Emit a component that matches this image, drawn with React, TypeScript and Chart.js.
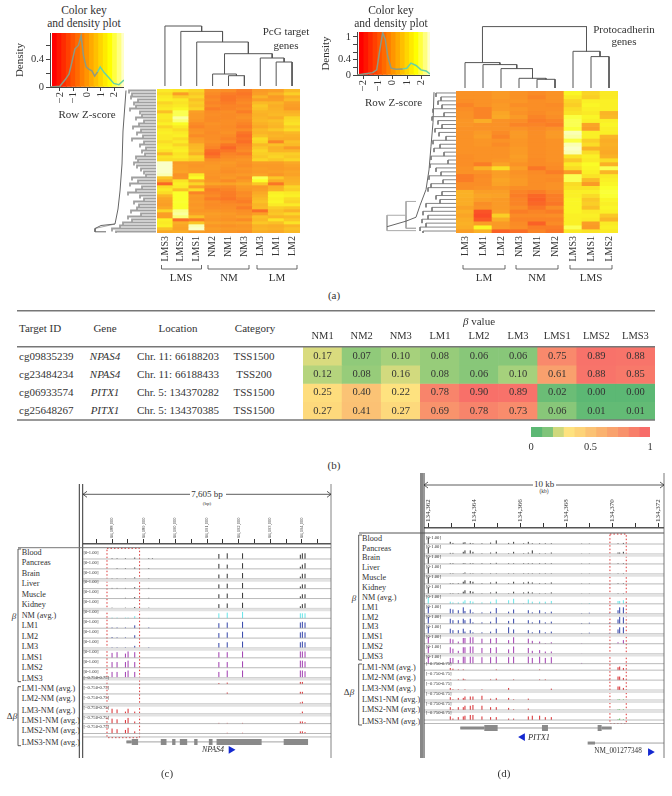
import { useEffect, useRef } from 'react';
import { Chart, registerables } from 'chart.js';

Chart.register(...registerables);
Chart.defaults.font.family = '"Liberation Serif"';
Chart.defaults.color = '#333';

/* ---------- panel (a), left heat map ---------- */
const pcgColumns = ['LMS3', 'LMS2', 'LMS1', 'NM2', 'NM1', 'NM3', 'LM3', 'LM1', 'LM2'];
const pcgLMS3 = [1.2,1.0,1.2,1.3,0.9,1.1,1.2,0.6,1.2,1.2,1.1,1.3,0.9,1.2,1.3,1.2,1.2,1.0,1.2,1.3,1.1,0.5,1.1,1.0,2.6,2.6,2.6,2.6,2.5,0.7,0.2,-1.2,1.0,1.2,1.0,0.4,0.0,-0.1,-0.2,0.1,0.9,-0.2,-0.2,1.3,1.2,1.3,0.6,0.1];
const pcgLMS2 = [1.1,-0.2,0.8,1.2,1.1,1.2,1.4,2.0,2.0,2.4,2.2,1.5,1.2,1.0,1.2,1.3,1.0,1.2,0.9,1.2,1.3,1.1,1.2,1.0,-0.3,-0.2,-0.2,-0.1,-0.5,-0.4,1.1,1.3,1.2,0.6,1.6,1.6,1.6,1.7,1.6,1.6,2.3,2.4,2.2,-1.1,0.2,0.0,-0.1,0.2];
const pcgLMS1 = [0.9,0.7,0.9,0.6,0.8,0.7,0.9,-0.2,-0.3,-0.3,-0.4,-0.7,-0.8,-0.5,-0.4,-0.7,-0.3,-0.2,0.4,0.5,0.6,0.3,0.9,0.8,-0.3,-0.4,-0.3,-0.3,1.2,1.5,0.2,0.9,-0.1,1.0,-0.8,-0.3,-0.4,-0.3,-0.4,-0.3,-0.4,-0.2,0.6,-0.9,0.7,2.5,2.6,-0.2];
const pcgNM2 = [-0.5,-0.7,-0.8,-0.7,-0.8,-0.7,-0.9,-0.7,-0.6,-0.7,-0.7,-0.5,-0.6,-0.6,-0.7,-0.6,-0.6,-0.5,-0.7,-0.8,-1.1,-1.2,-1.0,-0.6,-0.4,-0.3,-0.3,-0.4,-0.4,-0.5,-0.4,0.0,-0.6,-0.9,-0.8,-0.7,-0.9,-0.6,-0.7,-0.6,-0.4,-0.2,-0.3,-0.4,-0.1,-0.4,-0.2,-0.3];
const pcgNM1 = [-0.6,-0.9,-1.0,-1.0,-0.9,-0.8,-0.8,-0.6,-0.7,-0.7,-0.6,-0.6,-0.7,-0.6,-0.5,-0.7,-0.8,-0.6,-1.0,-1.2,-1.0,-0.8,-0.7,-0.5,-0.3,-0.4,-0.5,-0.6,-0.4,-0.3,-0.7,-0.1,-0.7,-0.8,-0.9,-0.9,-1.0,-0.8,-0.7,-0.6,-0.5,-0.3,-0.4,-0.5,-0.2,-0.5,-0.3,-0.4];
const pcgNM3 = [-0.9,-1.0,-0.9,-0.8,-0.7,-0.8,-0.7,-0.9,-0.6,-0.5,-0.7,-0.8,-0.9,-0.7,-1.0,-1.1,-1.0,-1.1,-0.9,-0.8,-0.7,-0.9,-0.6,-0.4,-0.5,-0.6,-0.4,-0.5,-0.3,-0.6,-0.3,0.1,-0.3,-0.4,-0.7,-0.6,-0.8,-0.9,-0.7,-0.9,-0.6,-0.5,-0.2,-0.7,-0.1,-0.4,-0.3,-0.5];
const pcgLM3 = [-0.3,-0.2,0.3,-0.2,0.5,0.7,0.6,0.4,0.3,0.4,0.5,0.3,0.1,0.5,0.4,0.6,1.0,0.9,0.5,0.7,0.9,0.8,0.7,0.9,-0.2,-0.3,-0.2,-0.3,-0.1,2.0,1.6,0.7,-0.3,-0.2,0.1,0.3,0.5,0.6,0.4,0.5,-1.1,-0.2,0.6,0.5,0.7,0.3,0.4,0.2];
const pcgLM1 = [-0.2,0.3,-0.3,-0.2,0.4,0.2,0.3,0.4,0.5,0.2,0.6,0.5,0.4,0.7,0.3,0.4,0.2,-0.8,0.6,0.3,0.4,0.8,0.9,0.7,-0.2,-0.3,-0.3,-0.2,-0.4,0.7,0.2,-1.0,0.3,0.4,1.3,1.4,1.3,1.4,1.2,0.8,0.6,0.7,0.4,1.1,0.6,0.2,0.3,0.1];
const pcgLM2 = [0.5,0.8,0.2,0.5,-0.1,-0.2,-0.3,0.3,0.5,0.9,1.0,1.1,0.8,1.0,0.5,0.3,0.2,0.6,0.5,-0.3,0.4,0.8,0.7,0.9,0.1,-0.1,-0.2,0.0,-0.1,0.2,0.3,0.4,0.9,0.8,1.2,1.3,1.0,0.9,1.2,0.7,0.3,0.9,0.5,0.7,1.1,0.4,0.6,0.5];
const pcgLeafDepth = [27,24,25,18,22,20,26,16,14,20,12,17,23,15,19,13,24,12,16,10,14,11,20,18,22,19,15,12,10,24,18,26,14,20,28,16,12,22,17,19,25,15,28,24,33,36,44,40];
const pcgSpine = [[30,0.5],[33,14],[34,25],[36,34],[38,40],[41,45],[55,45.5],[61,46.5],[61,47.6],[50,47.6]];
/* [left x, left height, right x, right height, top] */
const pcgMerges = [
  [4, 3, 5, 3, 13.3], [3, 3, 4.5, 13.3, 15], [7, 3, 8, 3, 27], [6, 3, 7.5, 27, 31],
  [3.75, 15, 6.75, 31, 35.3], [2, 3, 5.25, 35.3, 47], [1, 3, 3.625, 47, 57.6], [0, 3, 2.31, 57.6, 63],
];
const pcgDensity = [[-2.7,0],[-2,0.01],[-1.63,0.1],[-1.33,0.186],[-1.14,0.338],[-0.89,0.552],[-0.64,0.6],[-0.44,0.743],[-0.27,0.457],[-0.07,0.29],[0.12,0.257],[0.35,0.233],[0.55,0.157],[0.77,0.219],[0.96,0.29],[1.26,0.205],[1.58,0.138],[1.95,0.052],[2.32,0.033],[2.7,0.1]];

/* ---------- panel (a), right heat map ---------- */
const pcdhColumns = ['LM3', 'LM1', 'LM2', 'NM3', 'NM1', 'NM2', 'LMS3', 'LMS1', 'LMS2'];
const pcdhLM3 = [-0.5,-0.5,-0.6,-0.8,-0.6,-0.5,-0.5,-0.4,-0.4,-0.5,-0.5,-0.5,-0.5,-0.5,-0.5,-0.5,-0.6,-0.6,-0.6,-0.5,-0.5,-0.9,-0.9,-0.6,-0.6,0.3,0.3,0.2,0.2,-0.1,0.2,0.0,0.2,0.3,0.2,-0.2];
const pcdhLM1 = [-0.5,-0.5,-0.5,-0.5,-0.8,-0.8,-0.8,0.2,-0.5,-0.5,-0.3,-0.2,-0.4,-0.4,-0.5,-0.5,-0.5,-0.5,-0.9,0.3,-0.5,-0.7,-0.6,-0.6,-0.5,-0.2,0.0,-0.2,-0.6,-0.5,-1.5,-1.6,-1.4,-0.2,1.4,0.3];
const pcdhLM2 = [-0.3,-0.3,-0.4,-0.3,-0.3,0.0,0.1,-0.5,-0.5,-0.5,-0.7,-0.8,-0.5,-0.7,-0.5,-0.5,-0.5,-0.4,-0.1,1.0,-0.2,-0.2,0.0,-0.1,-0.4,-0.2,-0.1,-0.3,-0.3,-0.3,-0.2,0.8,0.2,-0.3,-0.3,-1.3];
const pcdhNM3 = [-0.5,-0.5,-0.4,-0.6,-0.4,-0.5,-0.3,-0.6,-0.8,-0.5,-0.3,-0.3,-0.4,-0.4,-0.3,-0.3,-0.2,-0.3,-0.5,-0.2,-0.5,-0.4,-0.3,-0.3,-0.6,-0.8,-0.9,-0.8,-0.8,-0.6,-0.9,-0.7,-0.8,-0.7,-0.6,-1.1];
const pcdhNM1 = [-0.7,-0.8,-0.6,-0.6,-0.6,-0.7,-0.8,-0.9,-0.8,-0.7,-0.6,-0.6,-0.6,-0.6,-0.6,-0.6,-0.6,-0.7,-0.7,-1.0,-0.7,-0.6,-0.6,-0.6,-0.6,-0.9,-1.2,-1.3,-1.2,-1.0,-0.8,-0.7,-0.8,-1.3,-0.9,-0.8];
const pcdhNM2 = [-0.5,-0.5,-0.5,-0.7,-0.6,-0.5,-0.6,-0.8,-0.9,-0.5,-0.3,-0.3,-0.5,-0.5,-0.5,-0.5,-0.5,-0.5,-0.6,-0.7,-0.9,-0.6,-0.7,-0.5,-0.5,-0.7,-0.9,-0.9,-1.0,-0.6,-0.9,-0.6,-0.8,-0.7,-0.9,-1.0];
const pcdhLMS3 = [1.4,1.2,0.9,0.8,1.0,1.1,1.9,2.0,2.0,1.8,2.5,2.4,1.9,2.5,2.6,2.5,1.1,0.7,1.2,1.0,-0.3,2.0,2.0,1.0,1.1,1.3,1.3,1.4,1.4,1.4,1.4,1.3,1.3,1.3,2.0,1.2];
const pcdhLMS1 = [0.9,0.8,1.3,1.4,1.3,1.2,1.4,1.3,0.0,-0.2,1.3,1.3,0.8,1.0,0.3,1.0,1.3,1.2,1.5,1.4,1.3,1.1,0.5,-0.3,1.1,1.3,1.0,0.7,0.8,0.6,1.2,1.3,1.2,-0.2,-0.3,1.1];
const pcdhLMS2 = [1.2,1.2,1.3,1.3,1.3,0.4,0.5,1.3,1.4,1.3,1.3,0.4,0.2,0.3,0.2,0.1,0.3,1.0,0.3,2.0,0.4,1.2,1.3,1.4,1.6,1.8,1.7,1.4,1.3,1.4,1.3,0.7,0.4,1.2,1.3,1.2];
const pcdhLeafDepth = [20,15,18,14,23,12,24,18,14,21,17,10,23,16,22,12,25,8,26,20,15,27,13,25,28,14,20,16,30,24,33,28,34,30,36,33];
const pcdhSpine = [[22,0.3],[23,8],[25,14],[27,20],[30,25],[36,29],[40,32],[50,33],[69,34.4]];
const pcdhRoot = [[40,28],[50,28],[50,34.8],[40,34.8],[50,34.8],[50,31.5],[69,31.5],[69,35.4],[40,35.4]];
const pcdhMerges = [
  [4, 3, 5, 3, 11.7], [3, 3, 4.5, 11.7, 12.7], [2, 3, 3.75, 12.7, 22.4], [1, 3, 2.875, 22.4, 26.4],
  [0, 3, 1.94, 26.4, 28.4], [7, 3, 8, 3, 34.4], [6, 3, 7.5, 34.4, 39.7], [0.97, 28.4, 6.75, 39.7, 64.4],
];
const pcdhDensity = [[-2.46,0],[-2,0.027],[-1.38,0.062],[-1.1,0.133],[-0.92,0.578],[-0.69,1.11],[-0.51,0.93],[-0.34,0.49],[-0.11,0.178],[0.23,0.151],[0.69,0.16],[0.97,0.178],[1.26,0.311],[1.61,0.249],[1.95,0.133],[2.3,0.107],[2.57,0.027]];
const keyBands = ['#ff0000','#ff1500','#ff2b00','#ff4000','#ff5500','#ff6a00','#ff8000','#ff9500','#ffaa00','#ffbf00','#ffd500','#ffea00','#ffff00','#ffff40','#ffff80','#ffffc8'];

/* ---------- panel (b) ---------- */
const targetIds = ['cg09835239', 'cg23484234', 'cg06933574', 'cg25648267'];
const genes = ['NPAS4', 'NPAS4', 'PITX1', 'PITX1'];
const locations = ['Chr. 11: 66188203', 'Chr. 11: 66188433', 'Chr. 5: 134370282', 'Chr. 5: 134370385'];
const categories = ['TSS1500', 'TSS200', 'TSS1500', 'TSS1500'];
const betaColumns = ['NM1', 'NM2', 'NM3', 'LM1', 'LM2', 'LM3', 'LMS1', 'LMS2', 'LMS3'];
const betaRow1 = ['0.17', '0.07', '0.10', '0.08', '0.06', '0.06', '0.75', '0.89', '0.88'];
const betaRow2 = ['0.12', '0.08', '0.16', '0.08', '0.06', '0.10', '0.61', '0.88', '0.85'];
const betaRow3 = ['0.25', '0.40', '0.22', '0.78', '0.90', '0.89', '0.02', '0.00', '0.00'];
const betaRow4 = ['0.27', '0.41', '0.27', '0.69', '0.78', '0.73', '0.06', '0.01', '0.01'];
const betaLegend = ['#5cb874','#80c47a','#cfd87c','#fee27f','#fdd378','#fbc274','#fab26f','#f9a26d','#f8926c','#f87f6a','#f76c69'];

/* ---------- panel (c) ---------- */
const trackNames = ['Blood','Pancreas','Brain','Liver','Muscle','Kidney','NM (avg.)','LM1','LM2','LM3','LMS1','LMS2','LMS3','LM1-NM (avg.)','LM2-NM (avg.)','LM3-NM (avg.)','LMS1-NM (avg.)','LMS2-NM (avg.)','LMS3-NM (avg.)'];
const cTicks = [66187500,66188000,66188500,66189000,66189500,66190000,66190500,66191000,66191500,66192000,66192500,66193000,66193500,66194000,66194500];
const cPositions = [66188000,66188158,66188422,66188506,66188717,66189160,66189276,66191375,66191639,66192124,66193949,66194013,66194097];
const cBlood =    [.1,.1,.1,0,.2,.1,.1,.7,.8,.8,.6,.8,.8];
const cPancreas = [0,.1,.1,0,.2,.1,0,.7,.6,.8,.3,.6,.8];
const cBrain =    [.1,.1,.1,0,.2,.1,0,.6,.7,.8,.3,.7,.7];
const cLiver =    [.1,.1,.1,0,.2,.1,0,.6,.7,.8,.3,.6,.6];
const cMuscle =   [0,0,.1,0,.2,.1,0,.6,.7,.8,.3,.6,.6];
const cKidney =   [.1,0,.1,0,.2,.1,0,.6,.7,.8,.3,.6,.7];
const cNM =       [.1,.1,.1,.1,.3,.05,0,.7,.8,.9,.7,.7,.7];
const cLM1 =      [.1,.1,.1,0,.4,.1,0,.7,.8,.9,.8,.9,.8];
const cLM2 =      [.15,.1,.1,0,.4,0,0,.7,.8,.9,.8,.9,.8];
const cLM3 =      [.1,.1,.1,0,.3,.1,0,.7,.8,.9,.8,.9,.8];
const cLMS1 =     [.7,.8,.6,.9,.8,0,0,.8,.8,.9,.9,.9,.9];
const cLMS2 =     [.8,.8,.8,1,.8,0,0,.8,.8,.9,1,1,.9];
const cLMS3 =     [.8,.8,.8,1,.8,0,0,.8,1,1,1,1,.9];
const cDLM1 =     [0,0,0,0,0,0,0,.15,.2,0,.3,.3,0];
const cDLM2 =     [0,0,0,0,0,0,0,0,.2,0,.3,.3,0];
const cDLM3 =     [0,0,0,0,0,0,0,0,0,0,.2,.3,0];
const cDLMS1 =    [.7,.6,.3,.7,.3,0,0,0,0,0,.1,.3,0];
const cDLMS2 =    [.7,.6,.5,.8,.3,0,0,.1,.1,.1,.3,.3,.2];
const cDLMS3 =    [.7,.6,.5,.8,.3,0,0,0,.1,.1,.3,.3,.2];
const cTrackValues = [cBlood,cPancreas,cBrain,cLiver,cMuscle,cKidney,cNM,cLM1,cLM2,cLM3,cLMS1,cLMS2,cLMS3,cDLM1,cDLM2,cDLM3,cDLMS1,cDLMS2,cDLMS3];
const cExonsWide = [[66188622,66188823],[66189540,66189720],[66189899,66190004],[66190142,66190374],[66190595,66190701],[66191059,66191175],[66191302,66192726],[66193423,66194193]];
const cExonsThin = [[66188454,66188622]];
const cIntrons = [[66188454,66194193]];

/* ---------- panel (d) ---------- */
const dTicks = [134362000,134363000,134364000,134365000,134366000,134367000,134368000,134369000,134370000,134371000,134372000];
const dPositions = [134361986,134362942,134363058,134363290,134363507,134363580,134363811,134363927,134364318,134364695,134364941,134365478,134365695,134366130,134366333,134366507,134366826,134367072,134367333,134368652,134368985,134369855,134370232,134370304,134370464];
const dBlood =    [.9,.3,.15,0,.2,.25,.15,.1,.1,.2,.5,.15,.3,.1,.3,.1,.1,.1,.1,.05,.05,0,.1,0,.15];
const dPancreas = [.9,.15,.15,0,.3,.5,.5,.3,.1,.2,.3,.1,.3,.1,.2,.5,.1,.1,.2,.05,.05,0,.2,.2,.3];
const dBrain =    [.9,.1,.1,0,.1,.1,.1,.1,.1,.1,.15,.1,.1,.1,.1,.1,.1,.1,.1,.05,.05,0,.1,0,.1];
const dLiver =    [.9,.1,.1,0,.1,.2,.1,.1,.1,.1,.1,.1,.1,.1,.1,.1,.1,.1,.1,.05,.05,0,.1,0,.1];
const dMuscle =   [.9,.1,.1,.1,.3,.5,.4,.3,.1,.2,.3,.1,.3,.2,.3,.2,.1,.1,.2,.05,.05,0,.1,0,.1];
const dKidney =   [.9,.1,.1,.1,.3,.5,.4,.3,.1,.2,.3,.1,.3,.2,.3,.2,.1,.1,.2,.05,.05,0,.1,0,.1];
const dNM =       [.9,.3,.2,.2,.3,.5,.4,.3,.2,.3,.6,.5,.7,.1,.6,.3,.3,.3,.4,.05,.1,0,.4,.4,.5];
const dLM1 =      [1,.7,.6,.5,.9,.4,.6,.2,.2,.3,.8,.3,.6,0,.5,.2,.5,.2,.3,.1,.15,.1,.5,.9,.9];
const dLM2 =      [1,.7,.5,.5,.7,.5,.7,.2,.2,.3,.9,.4,.7,0,.5,.2,.5,.2,.3,.1,.15,.1,.6,1,.9];
const dLM3 =      [1,.7,.5,.5,.7,.3,.5,.2,.2,.3,.7,.9,.6,0,.5,.2,.5,.2,.3,.1,.15,.1,.6,.9,.9];
const dLMS1 =     [1,.7,.6,.3,.8,.8,.9,.9,.7,.7,.8,.5,.9,0,.7,.4,.3,.1,.2,.05,0,0,.2,0,.5];
const dLMS2 =     [1,.9,.7,.4,.9,.9,1,1,.8,.8,.9,.6,1,0,.8,.4,.5,.3,.3,.05,0,0,0,0,0];
const dLMS3 =     [1,.8,.8,.5,1,1,1,1,.9,.9,1,.9,1,0,1,.8,1,.8,.9,.1,0,0,0,0,0];
const dDLM1 =     [0,.3,.2,.1,.1,0,0,0,0,0,.1,0,0,0,0,0,.1,0,0,0,0,0,.4,.5,.3];
const dDLM2 =     [0,.1,0,.1,.2,.1,0,0,0,.1,.2,0,.1,0,0,0,.1,.1,0,0,0,.1,.5,.5,.3];
const dDLM3 =     [0,.3,.1,.1,0,.1,0,0,.1,0,0,.3,0,0,0,0,0,0,.2,0,0,0,.5,.5,.3];
const dDLMS1 =    [0,.4,.1,.3,.3,.5,.5,.5,.6,.2,.3,.3,.1,0,.2,0,0,0,0,0,0,0,.1,.1,.1];
const dDLMS2 =    [0,.4,.1,.4,.4,.6,.6,.7,.6,.4,.4,.3,.1,0,.2,0,0,0,0,0,0,0,.1,.1,.1];
const dDLMS3 =    [0,.5,.2,.4,.5,.6,.7,.7,.5,.4,.4,.2,.2,0,.5,.6,.6,.4,.4,0,0,0,.1,.2,.1];
const dTrackValues = [dBlood,dPancreas,dBrain,dLiver,dMuscle,dKidney,dNM,dLM1,dLM2,dLM3,dLMS1,dLMS2,dLMS3,dDLM1,dDLM2,dDLM3,dDLMS1,dDLMS2,dDLMS3];
const dExonsWide = [[134364420,134365000],[134366927,134367187],[134369346,134369520]];
const dExonsThin = [[134363377,134364420],[134369520,134369955]];
const dIntrons = [[134363377,134369955]];
const dGene2Exons = [[134368912,134369231]];
const dGene2Introns = [[134369231,134372245]];

/* ---------- helpers ---------- */
const GAP = { x: NaN, y: NaN };
const SERIF = '"Liberation Serif"';
const hexRgb = (h: string) => [1, 3, 5].map((i) => parseInt(h.slice(i, i + 2), 16));
const mix = (a: number[], b: number[], t: number) =>
  `rgb(${a.map((v, i) => Math.round(v + (b[i] - v) * t)).join(',')})`;
const zStops = [[-2.7, 0], [-0.7, 6.5], [0.5, 8.7], [1.2, 11], [2.6, 15]];
const bandColor = (z: number) => {
  let p = 0;
  for (let i = 1; i < zStops.length; i++) {
    if (z <= zStops[i][0] || i === zStops.length - 1) {
      p = zStops[i - 1][1] + ((z - zStops[i - 1][0]) / (zStops[i][0] - zStops[i - 1][0])) * (zStops[i][1] - zStops[i - 1][1]);
      break;
    }
  }
  p = Math.max(0, Math.min(keyBands.length - 1.001, p));
  const i = Math.floor(p);
  const soft = (c: number[]) => [Math.min(c[0], 250), c[1], Math.max(c[2], 38)];
  return mix(soft(hexRgb(keyBands[i])), soft(hexRgb(keyBands[i + 1])), p - i);
};
const betaColor = (v: number) => {
  const stops: [number, number[]][] = [[0,[92,184,116]],[0.1,[166,209,124]],[0.22,[254,226,127]],[0.5,[250,178,111]],[1,[247,96,104]]];
  for (let i = 1; i < stops.length; i++) {
    if (v <= stops[i][0]) return mix(stops[i-1][1], stops[i][1], (v - stops[i-1][0]) / (stops[i][0] - stops[i-1][0]));
  }
  return 'rgb(247,96,104)';
};
const noPad = (a: any) => { a.paddingLeft = 0; a.paddingRight = 0; a.paddingTop = 0; a.paddingBottom = 0; };

const base = (extra: any) => ({
  responsive: false,
  maintainAspectRatio: false,
  animation: false,
  events: [],
  layout: { padding: 0, autoPadding: false },
  plugins: { legend: { display: false }, tooltip: { enabled: false }, title: { display: false } },
  ...extra,
});

const lineSet = (data: any[], color: string, width: number, extra: any = {}) => ({
  type: 'scatter', data, showLine: true, borderColor: color, backgroundColor: color,
  borderWidth: width, pointRadius: 0, tension: 0, spanGaps: false, borderCapStyle: 'butt', ...extra,
});

function heatConfig(labels: string[], cols: number[][], axisH: number, fontSize: number) {
  const n = cols[0].length;
  const datasets = [];
  for (let r = 0; r < n; r++) {
    datasets.push({ data: labels.map(() => 1), backgroundColor: cols.map((c) => bandColor(c[r])), borderWidth: 0, categoryPercentage: 1, barPercentage: 1 });
  }
  return {
    type: 'bar',
    data: { labels, datasets },
    options: base({
      scales: {
        x: { stacked: true, grid: { display: false, drawTicks: false }, border: { display: false },
          ticks: { maxRotation: 90, minRotation: 90, autoSkip: false, padding: 3, color: '#333', font: { size: fontSize } },
          afterFit: (a: any) => { a.height = axisH; noPad(a); } },
        y: { stacked: true, display: false, reverse: true, min: 0, max: n },
      },
    }),
  };
}

function colDendro(merges: number[][], maxH: number) {
  const data: any[] = [];
  merges.forEach(([xa, ya, xb, yb, top]) => {
    data.push({ x: xa, y: ya }, { x: xa, y: top }, { x: xb, y: top }, { x: xb, y: yb }, GAP);
  });
  return {
    type: 'scatter',
    data: { datasets: [lineSet(data, '#555', 1)] },
    options: base({ scales: { x: { display: false, type: 'linear', min: -0.5, max: 8.5 }, y: { display: false, min: 0, max: maxH } } }),
  };
}

function rowDendro(leaf: number[], spine: number[][], extra: number[][], maxD: number, leafColor: string, width: number) {
  const leaves: any[] = [];
  leaf.forEach((d, i) => {
    leaves.push({ x: 0, y: i + 0.5 }, { x: d, y: i + 0.5 }, { x: d, y: i + 1.5 }, GAP);
  });
  const spinePts = spine.map(([x, y]) => ({ x, y }));
  const extraPts = extra.map(([x, y]) => ({ x, y }));
  return {
    type: 'scatter',
    data: { datasets: [lineSet(leaves, leafColor, width), lineSet(spinePts, '#666', 1), lineSet(extraPts, '#aaa', 1)] },
    options: base({ scales: { x: { display: false, type: 'linear', reverse: true, min: 0, max: maxD }, y: { display: false, reverse: true, min: 0, max: leaf.length } } }),
  };
}

function keyConfig(density: number[][], xMin: number, xMax: number, yMax: number, labelled: number[], xTicks: number[], yTicks: number[], yW: number, band: number) {
  const near = (v: number) => labelled.some((l) => Math.abs(l - v) < 1e-6);
  return {
    type: 'bar',
    data: {
      labels: keyBands.map((_, i) => String(i)),
      datasets: [
        { type: 'line', order: 0, xAxisID: 'x', yAxisID: 'y', data: density.map(([x, y]) => ({ x, y })),
          borderWidth: 1.5, pointRadius: 0, tension: 0,
          segment: { borderColor: (c: any) => (c.p0.parsed.x < 0.6 ? '#8f9a80' : '#66d2a6') } },
        { type: 'bar', order: 1, xAxisID: 'xc', yAxisID: 'y', data: keyBands.map(() => yMax), backgroundColor: keyBands, borderWidth: 0, barThickness: band },
      ],
    },
    options: base({
      scales: {
        xc: { type: 'category', display: false, offset: true },
        x: { type: 'linear', position: 'bottom', bounds: 'data', min: xMin, max: xMax, offset: false,
          grid: { offset: false, drawOnChartArea: false, tickLength: 4, color: '#444' }, border: { color: '#444' },
          title: { display: true, text: 'Row Z-score', font: { size: 11 }, color: '#333', padding: 0 },
          afterBuildTicks: (a: any) => { a.ticks = xTicks.map((value) => ({ value })); },
          ticks: { autoSkip: false, maxRotation: 90, minRotation: 90, padding: 1, color: '#333', font: { size: 10.5 },
            callback: (v: number) => String(v).replace('-', '\u2212') },
          afterFit: (a: any) => { a.height = 35; noPad(a); } },
        y: { bounds: 'data', min: 0, max: yMax, grid: { drawOnChartArea: false, tickLength: 4, color: '#444' }, border: { color: '#444' },
          title: { display: true, text: 'Density', font: { size: 11 }, color: '#333', padding: 0 },
          afterBuildTicks: (a: any) => { a.ticks = yTicks.map((value) => ({ value })); },
          ticks: { autoSkip: false, padding: 2, color: '#333', font: { size: 10.5 },
            callback: (v: number) => (near(v) ? String(Math.round(v * 10) / 10) : '') },
          afterFit: (a: any) => { a.width = yW; noPad(a); } },
      },
    }),
  };
}

const valueLabels = {
  id: 'valueLabels',
  afterDatasetsDraw(chart: any) {
    const ctx = chart.ctx;
    ctx.save();
    ctx.font = `10.5px ${SERIF}`;
    ctx.fillStyle = '#333';
    ctx.textAlign = 'center';
    ctx.textBaseline = 'middle';
    chart.data.datasets.forEach((ds: any, di: number) => {
      chart.getDatasetMeta(di).data.forEach((bar: any, i: number) => {
        ctx.fillText(ds.labelsText[i], bar.x, (bar.y + bar.base) / 2);
      });
    });
    ctx.restore();
  },
};

function betaConfig() {
  const rows = [betaRow1, betaRow2, betaRow3, betaRow4];
  return {
    type: 'bar',
    data: {
      labels: betaColumns,
      datasets: rows.map((r) => ({ data: r.map(() => 1), labelsText: r, backgroundColor: r.map((v) => betaColor(Number(v))), borderWidth: 0, categoryPercentage: 1, barPercentage: 1 })),
    },
    plugins: [valueLabels],
    options: base({
      scales: {
        x: { stacked: true, position: 'top', grid: { display: false, drawTicks: false }, border: { display: false },
          ticks: { padding: 4, color: '#333', autoSkip: false, maxRotation: 0, font: { size: 10.5 } },
          afterFit: (a: any) => { a.height = 22; noPad(a); } },
        y: { stacked: true, display: false, reverse: true, min: 0, max: 4 },
      },
    }),
  };
}

function legendConfig() {
  return {
    type: 'bar',
    data: { labels: ['\u03b2'], datasets: betaLegend.map((c) => ({ data: [1 / betaLegend.length], backgroundColor: c, borderWidth: 0, categoryPercentage: 1, barPercentage: 1 })) },
    options: base({
      indexAxis: 'y',
      layout: { padding: { left: 10, right: 10 }, autoPadding: false },
      scales: {
        x: { stacked: true, bounds: 'data', min: 0, max: 1, grid: { display: false, drawTicks: false }, border: { display: false },
          afterBuildTicks: (a: any) => { a.ticks = [0, 0.5, 1].map((value) => ({ value })); },
          ticks: { padding: 4, color: '#333', font: { size: 10.5 }, callback: (v: number) => String(v) },
          afterFit: (a: any) => { a.height = 26; noPad(a); } },
        y: { stacked: true, display: false },
      },
    }),
  };
}

const rowY = (i: number) => (i < 13 ? i : i - 0.35);
const trackColor = (i: number) => (i < 6 ? '#333' : i === 6 ? '#66e4e8' : i < 10 ? '#3344aa' : i < 13 ? '#a03cb0' : '#d8282c');

function trackConfig(o: any) {
  const groups: Record<string, any[]> = {};
  o.values.forEach((vals: number[], t: number) => {
    vals.forEach((h, p) => {
      if (h <= 0) return;
      let c = trackColor(t);
      if (o.greenAt && t >= 16 && o.positions[p] > o.greenAt) c = '#44cc44';
      (groups[c] = groups[c] || []).push({ x: o.positions[p], y: rowY(t) }, { x: o.positions[p], y: rowY(t) - h * 0.72 }, GAP);
    });
  });
  const baselines: any[] = [];
  const wide: any[] = [];
  trackNames.forEach((_, t) => {
    baselines.push({ x: o.min, y: rowY(t) }, { x: o.max, y: rowY(t) }, GAP);
    if (o.shaded.includes(t)) wide.push({ x: o.min, y: rowY(t) + 0.14 }, { x: o.max, y: rowY(t) + 0.14 }, GAP);
  });
  baselines.push({ x: o.min, y: 18 }, { x: o.max, y: 18 }, GAP);
  const spans = (list: number[][], y: number) => list.flatMap(([a, b]) => [{ x: a, y }, { x: b, y }, GAP]);
  const gene = '#8a8a8a';
  const datasets: any[] = [
    lineSet(wide, '#e2e2e2', 3),
    lineSet(baselines, '#a8a8a8', 0.8),
    ...Object.entries(groups).map(([c, d]) => lineSet(d, c, 1)),
    lineSet(o.box, '#dd3333', 1, { borderDash: [1.5, 2] }),
  ];
  o.genes.forEach((g: any) => {
    datasets.push(lineSet(spans(g.introns, g.y), gene, 0.8));
    datasets.push(lineSet(spans(g.thin, g.y), gene, 3));
    datasets.push(lineSet(spans(g.wide, g.y), gene, 6));
  });
  o.arrows.forEach((a: any) => {
    datasets.push({ type: 'scatter', data: [{ x: a.x, y: a.y }], pointStyle: 'triangle', pointRadius: 4.5, rotation: a.rot, pointBackgroundColor: '#1428d0', pointBorderWidth: 0 });
  });
  return {
    type: 'scatter',
    data: { datasets },
    options: base({
      scales: {
        x: { type: 'linear', position: 'top', bounds: 'data', min: o.min, max: o.max,
          grid: { drawOnChartArea: false, tickLength: 5, color: '#333' }, border: { color: '#555', width: 1.5 },
          afterBuildTicks: (a: any) => { a.ticks = o.ticks.map((value: number) => ({ value })); },
          ticks: { autoSkip: false, maxRotation: 90, minRotation: 90, padding: 1, labelOffset: o.tickFont * 1.15, color: '#333', font: { size: o.tickFont },
            callback: (v: number) => (v % o.labelEvery === 0 ? (o.kb ? (v / 1000).toLocaleString('en-US') : v.toLocaleString('en-US')) : '') },
          afterFit: (a: any) => { a.height = o.axisH; noPad(a); } },
        y: { display: false, reverse: true, min: o.yMin, max: o.yMax },
      },
    }),
  };
}

const cConfig = () => trackConfig({
  positions: cPositions, values: cTrackValues, min: 66187082, max: 66194918, ticks: cTicks, labelEvery: 1000, kb: false, tickFont: 4.6, axisH: 39,
  yMin: -1.515, yMax: 20.33, shaded: [2, 5, 9, 12, 15, 16],
  box: [{ x: 66187840, y: -1.08 }, { x: 66188870, y: -1.08 }, { x: 66188870, y: 18.07 }, { x: 66187840, y: 18.07 }, { x: 66187840, y: -1.08 }],
  genes: [{ y: 18.5, introns: cIntrons, thin: cExonsThin, wide: cExonsWide }],
  arrows: [{ x: 66191757, y: 19.3, rot: 90 }],
});
const dConfig = () => trackConfig({
  positions: dPositions, values: dTrackValues, min: 134361800, max: 134372230, ticks: dTicks, labelEvery: 2000, kb: true, tickFont: 7, axisH: 33, greenAt: 134370000,
  yMin: -1.605, yMax: 21.66, shaded: [1, 3, 5, 7, 9, 11, 15, 16, 17],
  box: [{ x: 134369880, y: -1 }, { x: 134370590, y: -1 }, { x: 134370590, y: 18 }, { x: 134369880, y: 18 }, { x: 134369880, y: -1 }],
  genes: [
    { y: 18.45, introns: dIntrons, thin: dExonsThin, wide: dExonsWide },
    { y: 19.96, introns: dGene2Introns, thin: dGene2Exons, wide: [] },
  ],
  arrows: [{ x: 134366086, y: 19.36, rot: -90 }, { x: 134371636, y: 20.86, rot: 90 }],
});

/* ---------- components ---------- */
function Plot({ x, y, w, h, make }: any) {
  const ref = useRef<HTMLCanvasElement>(null);
  useEffect(() => {
    const chart = new Chart(ref.current as any, make());
    return () => chart.destroy();
  }, []);
  return <canvas ref={ref} width={w} height={h} style={{ position: 'absolute', left: x, top: y, width: w, height: h }} />;
}

function T({ x, y, s = 11, a = 'c', i = false, children }: any) {
  return (
    <span style={{ position: 'absolute', left: x, top: y, fontFamily: SERIF, fontSize: s, fontStyle: i ? 'italic' : 'normal', color: '#333', lineHeight: 1, whiteSpace: 'nowrap',
      transform: a === 'c' ? 'translate(-50%,-50%)' : 'translate(0,-50%)' }}>{children}</span>
  );
}

const rules: [string, string, number][] = [
  ['M161.5,265V269H201.5V265', '#444', 0.8], ['M208,265V269H249V265', '#444', 0.8], ['M257,265V269H297V265', '#444', 0.8],
  ['M463,265V269H505V265', '#444', 0.8], ['M516,265V269H558V265', '#444', 0.8], ['M570,265V269H612V265', '#444', 0.8],
  ['M17,310.7H655', '#777', 1.6], ['M17,346.7H655', '#777', 1.6], ['M17,420H655', '#777', 1.6],
  ['M79.3,484V758M82.7,484V758', '#333', 1], ['M331,484V758', '#666', 0.8], ['M18,547.7H331', '#777', 1],
  ['M83,494.3H190M226,494.3H331M87,491.3L83,494.3L87,497.3M327,491.3L331,494.3L327,497.3', '#333', 0.8],
  ['M21,549H18V681.7H21M21,686.7H18V745.7H21', '#333', 0.8],
  ['M421.5,473V758', '#888', 3], ['M424,473V758', '#333', 1], ['M664,473V758', '#555', 0.8], ['M359,533H664', '#555', 1],
  ['M424,485H533M556,485H664M428,482L424,485L428,488M660,482L664,485L660,488', '#333', 0.8],
  ['M362,535H358.7V660H362M362,664H358.7V725H362', '#333', 0.8],
];

export default function App() {
  const cLabelY = [552.7,563.2,573.7,584.2,594.7,605.2,615.7,626.2,636.7,647.2,657.7,668.2,678.7,689.3,699.3,711.3,721,731.3,742.7];
  const dLabelY = [538.7,548.6,558.4,568.3,578.1,588,597.9,607.7,617.6,627.4,637.3,647.1,657,668,678.3,689.3,700,710,721.7];
  const cBaseY = (i: number) => 558.7 + 9.9 * rowY(i);
  const dBaseY = (i: number) => 544 + 9.97 * rowY(i);
  const keyYL = [0, 0.2, 0.4, 0.6];
  const keyYR = [0, 0.2, 0.4, 0.6, 0.8, 1];
  const keyX = [-2, -1, 0, 1, 2];
  return (
    <div style={{ position: 'absolute', left: 0, top: 0, width: 672, height: 796, background: '#fff', overflow: 'hidden', filter: 'blur(0.3px)' }}>
      {/* panel (a) */}
      <T x={84} y={11} s={11.5}>Color key</T>
      <T x={84} y={24} s={11.5}>and density plot</T>
      <Plot x={14} y={33} w={110} h={89} make={() => keyConfig(pcgDensity, -2.72, 2.7, 0.78, [0, 0.4], keyX, keyYL, 36, 5.2)} />
      <Plot x={157} y={19} w={143} h={70} make={() => colDendro(pcgMerges, 70)} />
      <Plot x={94} y={89} w={62} h={144} make={() => rowDendro(pcgLeafDepth, pcgSpine, [[41,45],[61,46.5]], 62, '#a0a0a0', 1.8)} />
      <Plot x={157} y={89} w={143} h={180} make={() => heatConfig(pcgColumns, [pcgLMS3, pcgLMS2, pcgLMS1, pcgNM2, pcgNM1, pcgNM3, pcgLM3, pcgLM1, pcgLM2], 36, 10)} />
      <T x={286} y={31}>PcG target</T>
      <T x={286} y={45}>genes</T>
      <T x={181} y={277}>LMS</T><T x={229} y={277}>NM</T><T x={277} y={277}>LM</T>

      <T x={391} y={11} s={11.5}>Color key</T>
      <T x={391} y={24} s={11.5}>and density plot</T>
      <Plot x={320} y={32} w={110} h={78} make={() => keyConfig(pcdhDensity, -2.46, 2.57, 1.125, [0, 0.4, 1], keyX, keyYR, 37, 5.2)} />
      <Plot x={456} y={20} w={162} h={71} make={() => colDendro(pcdhMerges, 71)} />
      <Plot x={385} y={91} w={71} h={142} make={() => rowDendro(pcdhLeafDepth, pcdhSpine, pcdhRoot, 71, '#777', 0.9)} />
      <Plot x={456} y={91} w={162} h={178} make={() => heatConfig(pcdhColumns, [pcdhLM3, pcdhLM1, pcdhLM2, pcdhNM3, pcdhNM1, pcdhNM2, pcdhLMS3, pcdhLMS1, pcdhLMS2], 36, 10)} />
      <T x={624} y={29}>Protocadherin</T>
      <T x={624} y={41}>genes</T>
      <T x={484} y={277}>LM</T><T x={537} y={277}>NM</T><T x={591} y={277}>LMS</T>
      <T x={334} y={295}>(a)</T>

      {/* panel (b) */}
      <T x={19} y={328.3} a="l">Target ID</T>
      <T x={105} y={328.3}>Gene</T>
      <T x={178} y={328.3}>Location</T>
      <T x={255} y={328.3}>Category</T>
      <T x={479} y={320.7}><i>β</i> value</T>
      {targetIds.map((id, r) => {
        const y = 356 + r * 18.1;
        return (
          <span key={id}>
            <T x={19} y={y} a="l">{id}</T>
            <T x={105} y={y} i>{genes[r]}</T>
            <T x={178} y={y}>{locations[r]}</T>
            <T x={254} y={y}>{categories[r]}</T>
          </span>
        );
      })}
      <Plot x={303} y={325} w={352} h={95} make={betaConfig} />
      <Plot x={521} y={427} w={139} h={36} make={legendConfig} />
      <T x={334} y={465}>(b)</T>

      {/* panel (c) */}
      <T x={207} y={494} s={9}>7,605 bp</T>
      <T x={207} y={502.7} s={5}>(bp)</T>
      <Plot x={83} y={505} w={248} h={255} make={cConfig} />
      {trackNames.map((n, i) => <T key={n} x={21.7} y={cLabelY[i]} s={8.2} a="l">{n}</T>)}
      {trackNames.map((n, i) => <T key={'r' + n} x={83.5} y={cBaseY(i) - 6} s={4.6} a="l">{i < 13 ? '[0-1.00]' : '[\u22120.750-0.75]'}</T>)}
      <T x={14} y={616} s={9} i>β</T>
      <T x={12} y={716} s={9}>Δ<i>β</i></T>
      <T x={213} y={750} s={8} i>NPAS4</T>
      <T x={167} y={773} s={11}>(c)</T>

      {/* panel (d) */}
      <T x={544} y={484} s={9}>10 kb</T>
      <T x={544} y={492} s={5.5}>(kb)</T>
      <Plot x={424} y={495} w={240} h={265} make={dConfig} />
      {trackNames.map((n, i) => <T key={'d' + n} x={362} y={dLabelY[i]} s={8.2} a="l">{n}</T>)}
      {trackNames.map((n, i) => <T key={'dr' + n} x={426} y={dBaseY(i) - 6.5} s={4.6} a="l">{i < 13 ? '[0-1.00]' : '[\u22120.750-0.75]'}</T>)}
      <T x={354} y={598} s={9} i>β</T>
      <T x={349} y={692} s={9}>Δ<i>β</i></T>
      <T x={539} y={737} s={8.5} i>PITX1</T>
      <T x={618} y={752} s={7.2}>NM_001277348</T>
      <T x={504} y={773} s={11}>(d)</T>

      <svg width={672} height={796} style={{ position: 'absolute', left: 0, top: 0, pointerEvents: 'none' }}>
        {rules.map(([d, c, w], i) => <path key={i} d={d} fill="none" stroke={c} strokeWidth={w} />)}
      </svg>
    </div>
  );
}
